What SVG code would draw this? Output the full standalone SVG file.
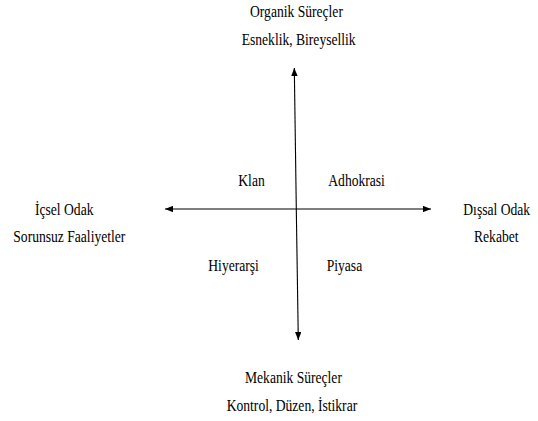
<svg xmlns="http://www.w3.org/2000/svg" width="538" height="421" viewBox="0 0 538 421">
<style>
.ax{stroke:#000;stroke-width:1.1;fill:none;marker-end:url(#ah)}
</style>
<defs>
<marker id="ah" viewBox="0 0 10 8" refX="10" refY="4" markerWidth="8" markerHeight="6.4" markerUnits="userSpaceOnUse" orient="auto">
<path d="M0,0 L10,4 L0,8 Z" fill="#000"/>
</marker>
</defs>
<rect width="538" height="421" fill="#fff"/>
<g id="connectors">
<line class="ax" x1="296.3" y1="209" x2="294.3" y2="68"/>
<line class="ax" x1="296.3" y1="209" x2="298.3" y2="340"/>
<line class="ax" x1="296.3" y1="209" x2="165" y2="209"/>
<line class="ax" x1="296.3" y1="209" x2="431" y2="209"/>
</g>
<g id="top">
<text font-family="Liberation Serif" font-size="16" transform="translate(250 17) scale(0.85 1)">Organik Süreçler</text>
<text font-family="Liberation Serif" font-size="16" transform="translate(241.7 45) scale(0.85 1)">Esneklik, Bireysellik</text>
</g>
<g id="left">
<text font-family="Liberation Serif" font-size="16" transform="translate(35 215) scale(0.85 1)">İçsel Odak</text>
<text font-family="Liberation Serif" font-size="16" transform="translate(13.3 241.7) scale(0.85 1)">Sorunsuz Faaliyetler</text>
</g>
<g id="right">
<text font-family="Liberation Serif" font-size="16" transform="translate(463.3 215) scale(0.85 1)">Dışsal Odak</text>
<text font-family="Liberation Serif" font-size="16" transform="translate(474 241.7) scale(0.85 1)">Rekabet</text>
</g>
<g id="bottom">
<text font-family="Liberation Serif" font-size="16" transform="translate(245 383) scale(0.85 1)">Mekanik Süreçler</text>
<text font-family="Liberation Serif" font-size="16" transform="translate(226.7 411) scale(0.85 1)">Kontrol, Düzen, İstikrar</text>
</g>
<g id="klan"><text font-family="Liberation Serif" font-size="16" transform="translate(238.3 186) scale(0.85 1)">Klan</text></g>
<g id="adhokrasi"><text font-family="Liberation Serif" font-size="16" transform="translate(328.3 186) scale(0.85 1)">Adhokrasi</text></g>
<g id="hiyerarsi"><text font-family="Liberation Serif" font-size="16" transform="translate(208.3 271) scale(0.85 1)">Hiyerarşi</text></g>
<g id="piyasa"><text font-family="Liberation Serif" font-size="16" transform="translate(326.7 271) scale(0.85 1)">Piyasa</text></g>
</svg>
